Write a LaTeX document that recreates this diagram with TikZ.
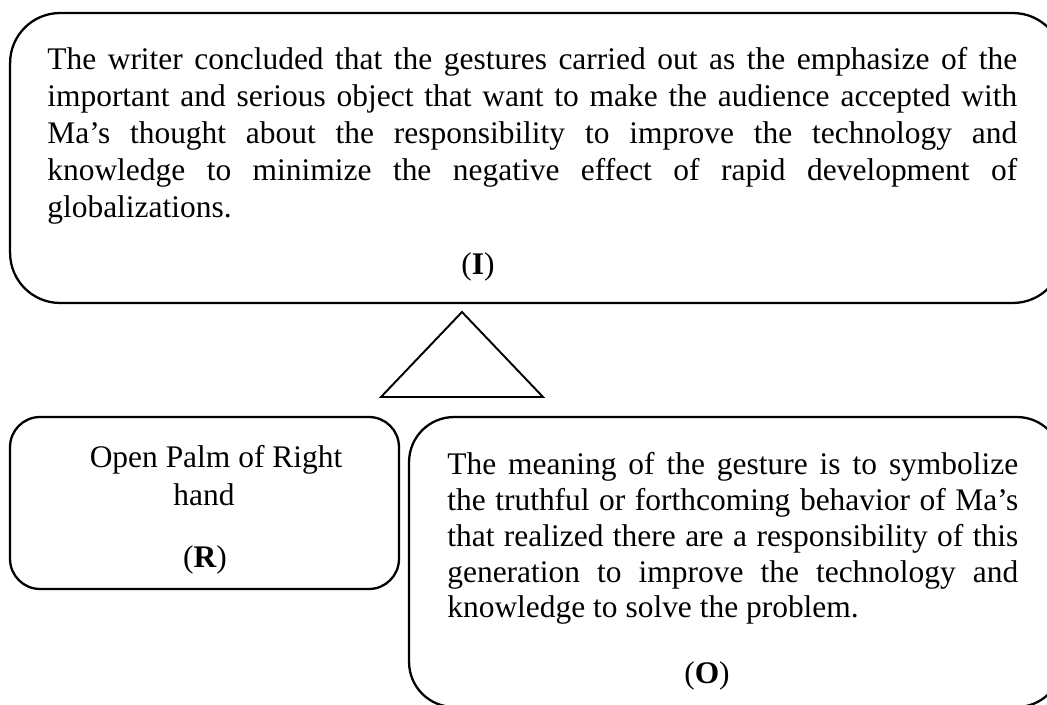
\documentclass[tikz,border=0pt]{standalone}
\usepackage{fontspec}
\setmainfont{Liberation Serif}
\usetikzlibrary{positioning, calc}
\tikzset{
  bx/.style={draw, line width=1.3pt, inner sep=0pt},
  txt/.style={anchor=north west, inner sep=0pt, align=justify},
  lab/.style={anchor=base, inner sep=0pt}
}

\begin{document}
\begin{tikzpicture}[x=0.02cm, y=-0.02cm,
		font=\fontsize{17.9pt}{21pt}\selectfont]
		\useasboundingbox (0,0) rectangle (1047,705);
		\clip (0,0) rectangle (1047,705);
		% the three boxes
		\node[bx, rounded corners=1cm, minimum width=21.06cm, minimum height=5.8cm] (I) at (536.5,158) {};
		\node[bx, rounded corners=0.6cm, minimum width=7.78cm, minimum height=3.44cm] (R) at (204.5,503) {};
		\node[bx, rounded corners=0.9cm, minimum width=13.06cm, minimum height=5.8cm] (O) at (735.5,562) {};
		% triangle between them
		\coordinate (top) at (462,312);
		\coordinate (bl) at (381,397);
		\coordinate (br) at (543,397);
		\draw[line width=1.1pt, line join=miter] (top) -- (br) -- (bl) -- cycle;
		% texts
		\node[txt, text width=19.4cm] (Itxt) at (47,47) {\hyphenpenalty=10000
			The writer concluded that the gestures carried out as the emphasize of the \linebreak
			important and serious object that want to make the audience accepted with \linebreak
			Ma’s thought about the responsibility to improve the technology and \linebreak
			knowledge to minimize the negative effect of rapid development of \linebreak
			globalizations.};
		\node[lab] (Ilab) at (478,275) {(\textbf{I})};
		\node[anchor=north, inner sep=0pt, align=center, font=\fontsize{17.9pt}{21.6pt}\selectfont] (Rtxt) at (204,445) {\hspace*{0.48cm}Open Palm of Right\\hand};
		\node[lab] (Rlab) at (205,567) {(\textbf{R})};
		\node[txt, text width=11.42cm, font=\fontsize{17.9pt}{20.4pt}\selectfont] (Otxt) at (447,452) {\hyphenpenalty=10000
			The meaning of the gesture is to symbolize \linebreak
			the truthful or forthcoming behavior of Ma’s \linebreak
			that realized there are a responsibility of this \linebreak
			generation to improve the technology and \linebreak
			knowledge to solve the problem.};
		\node[lab] (Olab) at (707,683) {(\textbf{O})};
	\end{tikzpicture}
\end{document}
